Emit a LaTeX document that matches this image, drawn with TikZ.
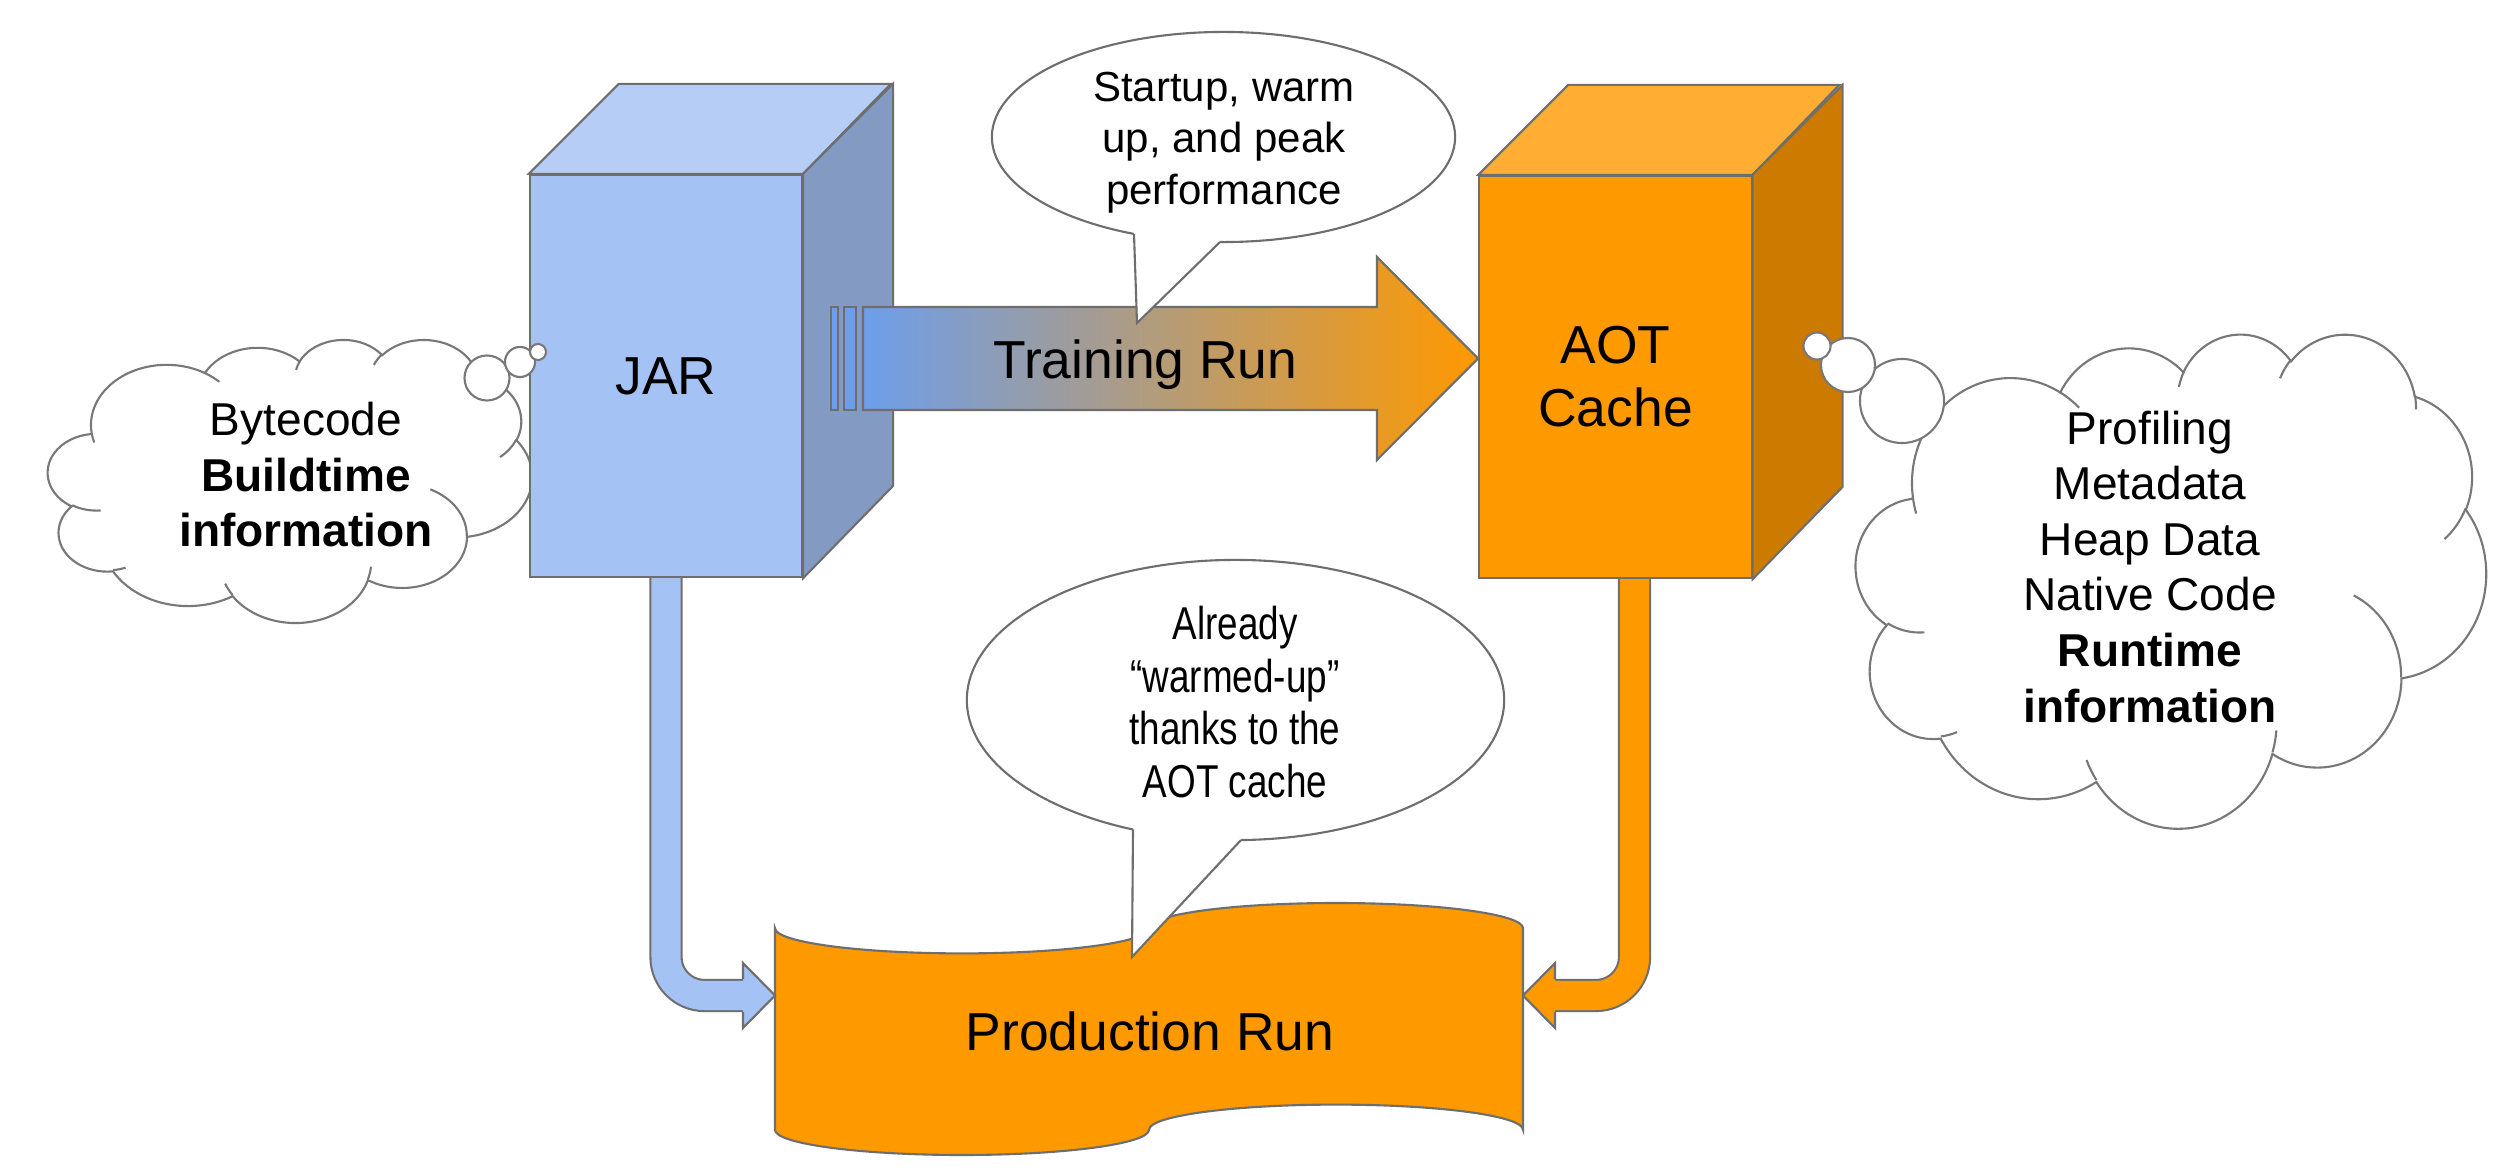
\documentclass[tikz,border=0pt]{standalone}
\usepackage{fontspec}
\setmainfont{Liberation Sans}
\newfontfamily\narrowfont{Liberation Sans}[FakeStretch=0.8]
\usetikzlibrary{shapes.geometric,calc}
\definecolor{lg}{RGB}{110,110,110}
\definecolor{cg}{RGB}{120,120,120}
\definecolor{jarF}{HTML}{A4C2F4}
\definecolor{jarT}{HTML}{B6CEF6}
\definecolor{jarS}{HTML}{839BC3}
\definecolor{aotF}{HTML}{FF9900}
\definecolor{aotT}{HTML}{FFAD33}
\definecolor{aotS}{HTML}{CC7A00}
\definecolor{trainL}{HTML}{6D9EEB}
\newcommand\bigf{\fontsize{15.2}{17.9}\selectfont}
\newcommand\cloudf{\fontsize{13.1}{15.8}\selectfont}
\newcommand\callf{\fontsize{11.95}{14.7}\selectfont}
\newcommand\callnf{\narrowfont\fontsize{13.1}{15.0}\selectfont}
\newcommand\ooarc[4]{arc[x radius=#1,y radius=#2,start angle={ooang(#3,#1,#2)},end angle={ooang(#3+#4,#1,#2)}]}
\newcommand\mycloud[4]{%
  \begin{scope}[shift={(#1,#2)},xscale=#3/43.2,yscale=#4/43.2]
    \filldraw[cloudline,fill=white] (3.9,14.37)
      \ooarc{6.753}{9.190}{-190.48748}{123.78053}
      \ooarc{5.333}{7.267}{-144.10238}{89.94523}
      \ooarc{4.365}{5.945}{-145.80792}{99.72302}
      \ooarc{4.857}{6.595}{-130.98607}{117.24173}
      \ooarc{5.333}{7.273}{-78.70888}{109.02692}
      \ooarc{6.775}{9.220}{-46.26725}{130.269}
      \ooarc{5.785}{7.867}{0.62502}{114.03333}
      \ooarc{6.752}{9.215}{22.4516}{115.17255}
      \ooarc{7.720}{10.543}{66.24263}{75.71102}
      \ooarc{4.360}{5.918}{-274.94208}{146.73557}
      \ooarc{4.345}{5.945}{-246.8285}{152.51885} -- cycle;
    \draw[cloudline]
      (4.693,26.177) \ooarc{4.345}{5.945}{86.742}{26.4295}
      (6.928,34.899) \ooarc{4.360}{5.918}{73.61047}{11.44747}
      (16.478,39.090) \ooarc{6.752}{9.215}{137.62415}{14.0811}
      (28.827,34.751) \ooarc{6.752}{9.215}{6.45327}{15.99835}
      (34.129,22.954) \ooarc{5.785}{7.867}{-70.29235}{70.91737}
      (41.798,15.354) \ooarc{5.333}{7.273}{30.31803}{27.7515}
      (38.324,5.426) \ooarc{4.857}{6.595}{-13.74433}{14.8589}
      (29.078,3.952) \ooarc{4.857}{6.595}{-149.18145}{18.19537}
      (22.141,4.720) \ooarc{4.365}{5.945}{-163.49427}{17.68635}
      (14.000,5.192) \ooarc{6.753}{9.190}{-66.70695}{12.31935}
      (4.127,15.789) \ooarc{6.753}{9.190}{157.65435}{11.85817};
  \end{scope}}
\begin{document}
\begin{tikzpicture}[x=0.01cm,y=-0.01cm,
  declare function={ooang(\a,\rx,\ry)=\a+mod(atan2(\rx*sin(\a),\ry*cos(\a))-\a+540,360)-180;},
  line width=0.6pt,
  cloudline/.style={draw=cg,line width=0.6pt},
  bubble/.style={circle,draw=cg,fill=white,inner sep=0pt},
  callout/.style={ellipse,draw=lg,fill=white,inner sep=0pt},
  front/.style={draw=lg,inner sep=0pt,minimum width=2.72cm,minimum height=4.02cm,font=\bigf,align=center},
  tailfill/.style={fill=white},
  tailline/.style={draw=lg}]
\useasboundingbox (0,0) rectangle (2508,1176);
\fill[white] (0,0) rectangle (2508,1176);

% thought clouds
\mycloud{48}{339}{484}{283}
\mycloud{1856}{333}{630}{494}

% JAR cube
\node[front,fill=jarF] (jar) at (666,376) {JAR};
\filldraw[fill=jarT,draw=lg] (jar.north west) -- ++(90,-90) -- ++(272,0) -- (jar.north east) -- cycle;
\filldraw[fill=jarS,draw=lg] (jar.north east) -- ++(90,-90) -- ++(0,402) -- (jar.south east) -- cycle;

% AOT cube
\node[front,fill=aotF] (aot) at (1615.5,377) {AOT\\Cache};
\filldraw[fill=aotT,draw=lg] (aot.north west) -- ++(90,-90) -- ++(271,0) -- (aot.north east) -- cycle;
\filldraw[fill=aotS,draw=lg] (aot.north east) -- ++(90,-90) -- ++(0,402) -- (aot.south east) -- cycle;

% training run arrow
\path[draw=lg,left color=trainL,right color=aotF]
  (863,307) -- (1377,307) -- (1377,257) -- (1478,358.5) -- (1377,460) -- (1377,410) -- (863,410) -- cycle;
\filldraw[fill=trainL,draw=lg] (831,307) rectangle (838,410);
\filldraw[fill=trainL,draw=lg] (844,307) rectangle (856,410);
\node[font=\bigf,anchor=base] (train) at (1145.5,379) {Training Run};

% production run (punched tape)
\filldraw[fill=aotF,draw=lg] (775,928.2)
  arc[x radius=187,y radius=25.2,start angle=180,end angle=0]
  arc[x radius=187,y radius=25.2,start angle=180,end angle=360]
  -- (1523,1129.8)
  arc[x radius=187,y radius=25.2,start angle=0,end angle=-180]
  arc[x radius=187,y radius=25.2,start angle=0,end angle=180] -- cycle;
\node[font=\bigf,anchor=base] (prod) at (1150,1050) {Production Run};
\coordinate (prodL) at (775,995.5);
\coordinate (prodR) at (1523,995.5);

% down arrows
\draw[draw=lg,double=jarF,double distance=0.29cm,rounded corners=0.385cm]
  (jar.south) |- ($(prodL)+(-31,0)$);
\filldraw[fill=jarF,draw=lg] ($(prodL)+(-32,-16.5)$) -- ($(prodL)+(-32,-32.5)$) -- (prodL)
  -- ($(prodL)+(-32,32.5)$) -- ($(prodL)+(-32,16.5)$);
\draw[draw=lg,double=aotF,double distance=0.29cm,rounded corners=0.385cm]
  ($(aot.south)+(19,0)$) |- ($(prodR)+(31,0)$);
\filldraw[fill=aotF,draw=lg] ($(prodR)+(32,-16.5)$) -- ($(prodR)+(32,-32.5)$) -- (prodR)
  -- ($(prodR)+(32,32.5)$) -- ($(prodR)+(32,16.5)$);

% callout 1
\node[callout,minimum width=4.63cm,minimum height=2.10cm] (co1) at (1223.5,137) {};
\fill[tailfill] (1134,226) -- (1134,234) -- (1137,323) -- (1220,242) -- (1220,232) -- cycle;
\draw[tailline] (1134,234) -- (1137,323) -- (1220,242);
\node[font=\callf,align=center] (co1t) at (1224,142.4) {Startup, warm\\up, and peak\\performance};

% callout 2
\node[callout,minimum width=5.37cm,minimum height=2.80cm] (co2) at (1235.5,700) {};
\fill[tailfill] (1133,820) -- (1133,829.4) -- (1132,957) -- (1241,840) -- (1241,830) -- cycle;
\draw[tailline] (1133,829.4) -- (1132,957) -- (1241,840);
\node[font=\callnf,align=center] (co2t) at (1235,702) {Already\\“warmed-up”\\thanks to the\\AOT cache};

% thought bubbles
\node[bubble,minimum size=0.45cm] (lb1) at (487,378) {};
\node[bubble,minimum size=0.30cm] (lb2) at (520,362) {};
\node[bubble,minimum size=0.16cm] (lb3) at (538,352) {};
\node[bubble,minimum size=0.84cm] (rb1) at (1902,401) {};
\node[bubble,minimum size=0.54cm] (rb2) at (1848,365) {};
\node[bubble,minimum size=0.27cm] (rb3) at (1817,346) {};

% cloud texts
\node[font=\cloudf,align=center] (ltxt) at (306,474.7) {Bytecode\\\textbf{Buildtime}\\\textbf{information}};
\node[font=\cloudf,align=center] (rtxt) at (2150,566.7) {Profiling\\Metadata\\Heap Data\\Native Code\\\textbf{Runtime}\\\textbf{information}};
\end{tikzpicture}
\end{document}
